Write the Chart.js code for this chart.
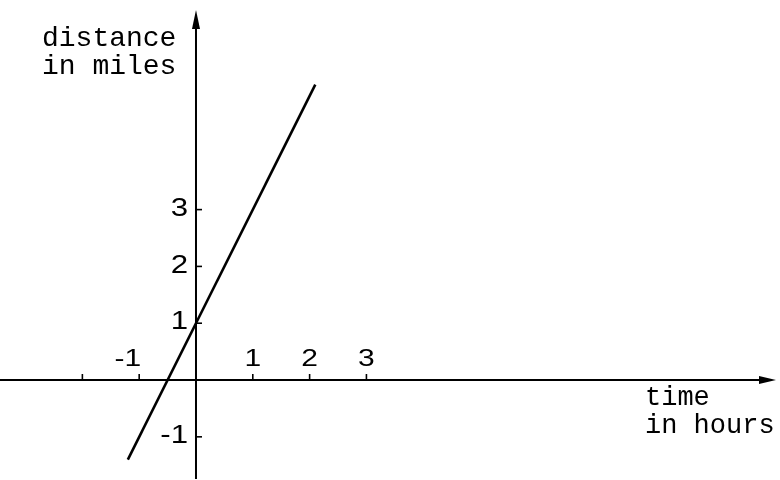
<!DOCTYPE html>
<html>
<head>
<meta charset="utf-8">
<script src="https://cdn.jsdelivr.net/npm/chart.js@4/dist/chart.umd.min.js"></script>
<style>
  html, body { margin: 0; padding: 0; background: #fff; }
  #wrap { width: 780px; height: 480px; position: relative; }
</style>
</head>
<body>
<div id="wrap"><canvas id="c" width="780" height="480"></canvas></div>
<script>
// Distance travelled against time: a straight line through (0, 1)
const lineX = [-1.2, 0, 2.1];
const lineY = [-1.4, 1, 5.2];

// Axis tick values and their printed labels
const xTickValues = [-2, -1, 1, 2, 3];
const xTickLabels = ['', '-1', '1', '2', '3'];
const yTickValues = [-1, 1, 2, 3];
const yTickLabels = ['-1', '1', '2', '3'];

// Axis titles
const yTitle = ['distance', 'in miles'];
const xTitle = ['time', 'in hours'];

const points = lineX.map((x, i) => ({ x: x, y: lineY[i] }));

// Writes a label with slightly widened glyphs, anchored by its right edge or centre
function wideText(ctx, text, x, y, align, stretch) {
  const w = ctx.measureText(text).width * stretch;
  const left = align === 'right' ? x - w : (align === 'center' ? x - w / 2 : x);
  ctx.save();
  ctx.translate(left, y);
  ctx.scale(stretch, 1);
  ctx.textAlign = 'left';
  ctx.fillText(text, 0, 0);
  ctx.restore();
}

// Draws the crossing axes, arrowheads, tick marks, tick labels and titles
const crossAxes = {
  id: 'crossAxes',
  beforeDatasetsDraw(chart) {
    const ctx = chart.ctx;
    const xs = chart.scales.x, ys = chart.scales.y;
    const ox = xs.getPixelForValue(0);
    const oy = ys.getPixelForValue(0);
    ctx.save();
    ctx.strokeStyle = '#000';
    ctx.fillStyle = '#000';
    ctx.lineWidth = 2;

    // horizontal axis
    const xEnd = 776;
    ctx.beginPath();
    ctx.moveTo(0, oy);
    ctx.lineTo(xEnd - 10, oy);
    ctx.stroke();
    ctx.beginPath();
    ctx.moveTo(xEnd, oy);
    ctx.lineTo(xEnd - 17, oy - 4);
    ctx.lineTo(xEnd - 17, oy + 4);
    ctx.closePath();
    ctx.fill();

    // vertical axis
    const yTop = 10;
    ctx.beginPath();
    ctx.moveTo(ox, 479);
    ctx.lineTo(ox, yTop + 10);
    ctx.stroke();
    ctx.beginPath();
    ctx.moveTo(ox, yTop);
    ctx.lineTo(ox - 4, yTop + 19);
    ctx.lineTo(ox + 4, yTop + 19);
    ctx.closePath();
    ctx.fill();

    // x ticks point upward, labels sit above them
    ctx.lineWidth = 1.6;
    ctx.font = '24px "Liberation Sans", Arial, sans-serif';
    ctx.textBaseline = 'alphabetic';
    xTickValues.forEach((v, i) => {
      const px = xs.getPixelForValue(v);
      ctx.beginPath();
      ctx.moveTo(px, oy);
      ctx.lineTo(px, oy - 6);
      ctx.stroke();
      const lab = xTickLabels[i];
      if (!lab) return;
      if (v < 0) {
        wideText(ctx, lab, px + 2, oy - 14, 'right', 1.25);
      } else {
        wideText(ctx, lab, px, oy - 14, 'center', 1.25);
      }
    });

    // y ticks point right, labels sit left of the axis
    ctx.font = '26px "Liberation Sans", Arial, sans-serif';
    ctx.textBaseline = 'middle';
    yTickValues.forEach((v, i) => {
      const py = ys.getPixelForValue(v);
      ctx.beginPath();
      ctx.moveTo(ox, py);
      ctx.lineTo(ox + 6, py);
      ctx.stroke();
      wideText(ctx, yTickLabels[i], ox - 8, py - 1, 'right', 1.2);
    });

    // titles in a typewriter face
    ctx.font = '28px "Liberation Mono", "Courier New", monospace';
    ctx.textAlign = 'left';
    ctx.textBaseline = 'alphabetic';
    ctx.fillText(yTitle[0], 42, 46);
    ctx.fillText(yTitle[1], 42, 74);
    ctx.font = '27px "Liberation Mono", "Courier New", monospace';
    ctx.fillText(xTitle[0], 645, 405);
    ctx.fillText(xTitle[1], 645, 433);
    ctx.restore();
  }
};

new Chart(document.getElementById('c'), {
  type: 'scatter',
  data: {
    datasets: [{
      data: points,
      showLine: true,
      borderColor: '#000',
      borderWidth: 2.6,
      pointRadius: 0,
      fill: false,
      tension: 0
    }]
  },
  options: {
    responsive: false,
    animation: false,
    devicePixelRatio: 1,
    layout: { padding: 0 },
    plugins: {
      legend: { display: false },
      tooltip: { enabled: false },
      title: { display: false }
    },
    scales: {
      x: { type: 'linear', display: false, min: -3.45, max: 10.28 },
      y: { type: 'linear', display: false, min: -1.76, max: 6.69 }
    }
  },
  plugins: [crossAxes]
});
</script>
</body>
</html>
